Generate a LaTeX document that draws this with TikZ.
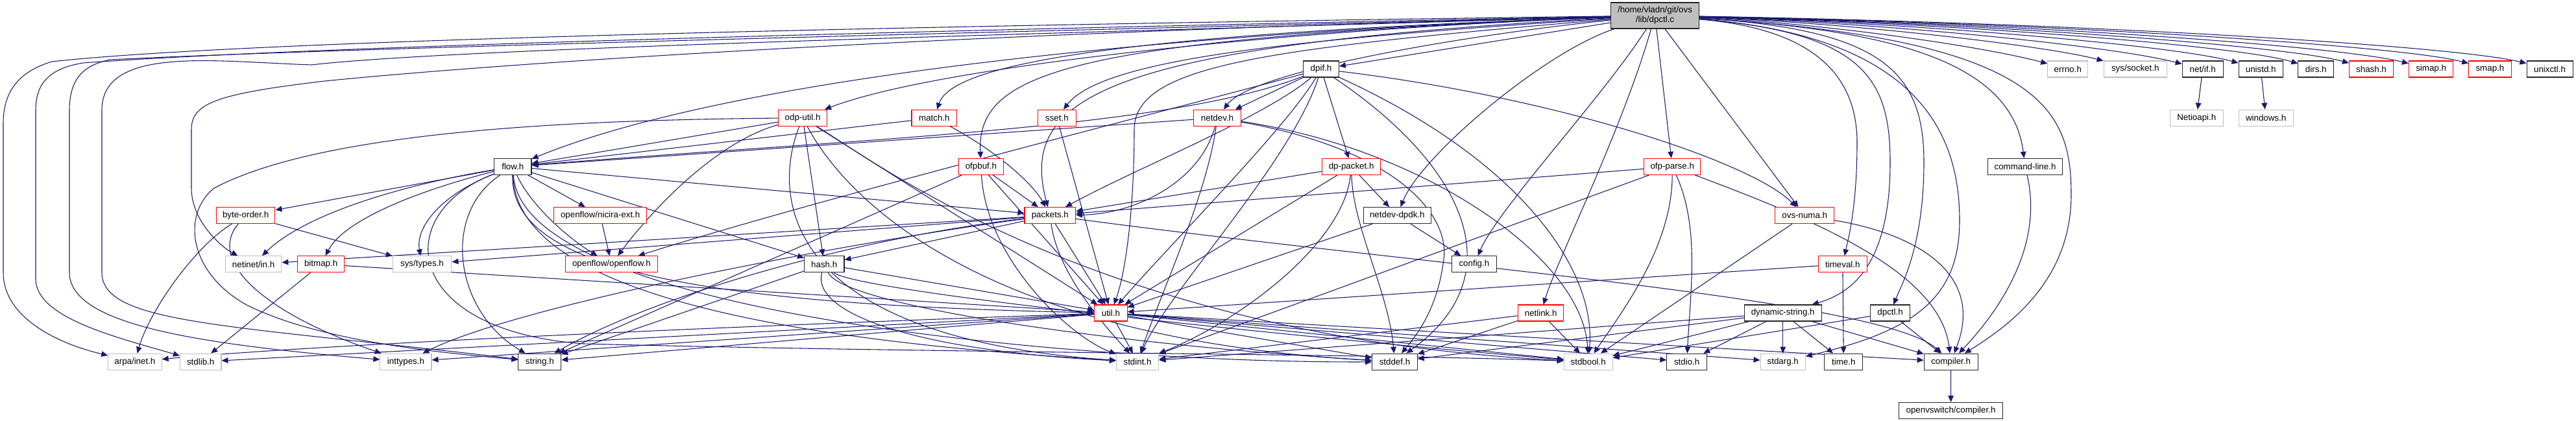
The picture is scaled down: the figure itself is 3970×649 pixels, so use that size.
\documentclass[tikz,border=0pt]{standalone}
\usepackage{fontspec}
\setmainfont{Liberation Sans}
\usetikzlibrary{arrows.meta}
\definecolor{edgeblue}{HTML}{191970}
\definecolor{nodegray}{HTML}{BFBFBF}
\pgfdeclarelayer{bg}
\pgfsetlayers{bg,main}
\begin{document}
\begin{tikzpicture}[x=0.75pt,y=-0.75pt,
  box/.style={rectangle, line width=0.8pt, minimum height=25*0.75pt, inner sep=0pt, fill=white, font=\fontsize{10}{12}\selectfont},
  blk/.style={box, draw=black!85, minimum width=#1*0.75pt},
  redb/.style={box, draw=red, minimum width=#1*0.75pt},
  gryb/.style={box, draw=nodegray, minimum width=#1*0.75pt},
  e/.style={draw=edgeblue, line width=0.8pt, -{Triangle[length=7.5pt,width=6.5pt]}}]
\useasboundingbox (0,0) rectangle (3970,649);
% root
\node[box, draw=black!85, fill=nodegray, minimum width=136*0.75pt, minimum height=40*0.75pt, align=center, font=\fontsize{10}{11.25}\selectfont] (root) at (2550.5,24) {/home/vladn/git/ovs\\/lib/dpctl.c};
% row 1
\node[blk=54.7] (dpif) at (2036,106.5) {dpif.h};
\node[gryb=62] (errno) at (3186.8,106.5) {errno.h};
\node[gryb=97.2] (syssock) at (3290.7,106.5) {sys/socket.h};
\node[blk=62.9] (netif) at (3394.65,106.5) {net/if.h};
\node[blk=68.4] (unistd) at (3484.2,106.5) {unistd.h};
\node[blk=54.7] (dirs) at (3569.25,106.5) {dirs.h};
\node[redb=68] (shash) at (3654.5,106.5) {shash.h};
\node[redb=68.4] (simap) at (3746.6,106.5) {simap.h};
\node[redb=65.4] (smap) at (3837.4,106.5) {smap.h};
\node[blk=71] (unixctl) at (3929.5,106.5) {unixctl.h};
% row 2
\node[redb=74.8] (odputil) at (1237.1,181.7) {odp-util.h};
\node[redb=69.7] (match) at (1439.85,181.7) {match.h};
\node[redb=59] (sset) at (1628.9,181.7) {sset.h};
\node[redb=72.6] (netdev) at (1876,181.7) {netdev.h};
\node[gryb=81.7] (netioapi) at (3385.25,181.7) {Netioapi.h};
\node[gryb=84.2] (windows) at (3492.1,181.7) {windows.h};
% row 3
\node[blk=57.3] (flow) at (790.35,256.9) {flow.h};
\node[redb=69.2] (ofpbuf) at (1511.9,256.9) {ofpbuf.h};
\node[redb=90.6] (dppacket) at (2082.6,256.9) {dp-packet.h};
\node[redb=86.8] (ofpparse) at (2577.2,256.9) {ofp-parse.h};
\node[blk=115] (cmdline) at (3121,256.9) {command-line.h};
% row 4
\node[redb=90.6] (byteorder) at (378.6,332.1) {byte-order.h};
\node[redb=143.2] (nicira) at (925.2,332.1) {openflow/nicira-ext.h};
\node[redb=78.6] (packets) at (1618.3,332.1) {packets.h};
\node[blk=103.8] (netdevdpdk) at (2153.3,332.1) {netdev-dpdk.h};
\node[redb=91.1] (ovsnuma) at (2781.25,332.1) {ovs-numa.h};
% row 5
\node[gryb=86.4] (netinet) at (390.6,407.3) {netinet/in.h};
\node[redb=72.3] (bitmap) at (494.65,407.3) {bitmap.h};
\node[gryb=90.8] (systypes) at (650.5,407.3) {sys/types.h};
\node[redb=141.9] (openflow) at (942.45,407.3) {openflow/openflow.h};
\node[blk=61.5] (hash) at (1270.25,407.3) {hash.h};
\node[blk=68.4] (config) at (2271.9,407.3) {config.h};
\node[redb=74.8] (timeval) at (2839.8,407.3) {timeval.h};
% row 6
\node[redb=50.4] (util) at (1711.9,482.5) {util.h};
\node[redb=70.5] (netlink) at (2374.65,482.5) {netlink.h};
\node[blk=118.8] (dynstring) at (2747.7,482.5) {dynamic-string.h};
\node[blk=61.5] (dpctlh) at (2913.05,482.5) {dpctl.h};
% row 7
\node[gryb=82.4] (arpa) at (207.9,557.7) {arpa/inet.h};
\node[gryb=63.6] (stdlib) at (309.2,557.7) {stdlib.h};
\node[gryb=79.1] (inttypes) at (625.45,557.7) {inttypes.h};
\node[blk=65.8] (string) at (831.8,557.7) {string.h};
\node[gryb=65.4] (stdint) at (1753.1,557.7) {stdint.h};
\node[blk=69.7] (stddef) at (2149.45,557.7) {stddef.h};
\node[gryb=74.8] (stdbool) at (2447.7,557.7) {stdbool.h};
\node[blk=61.5] (stdio) at (2599.65,557.7) {stdio.h};
\node[gryb=69.2] (stdarg) at (2747.7,557.7) {stdarg.h};
\node[blk=59] (time) at (2841.3,557.7) {time.h};
\node[blk=82.9] (compiler) at (3006.65,557.7) {compiler.h};
% row 8
\node[blk=159.4] (ovscompiler) at (3006.5,632.9) {openvswitch/compiler.h};

\begin{pgfonlayer}{bg}
% ---- root edges
\draw[e] (root) .. controls (1500,38) and (400,60) .. (80,95) .. controls (30,110) and (5,140) .. (5,190) -- (5,420) .. controls (5,490) and (90,530) .. (arpa);
\draw[e] (root) .. controls (1500,45) and (500,70) .. (128,97) .. controls (80,105) and (55,125) .. (55,170) -- (55,430) .. controls (55,490) and (180,520) .. (stdlib);
\draw[e] (root) .. controls (1500,50) and (500,75) .. (170,92) .. controls (130,100) and (107,120) .. (107,170) -- (107,420) .. controls (107,500) and (300,530) .. (inttypes);
\draw[e] (root) .. controls (1500,55) and (700,75) .. (480,100) .. controls (330,95) and (157,70) .. (157,170) -- (157,420) .. controls (157,500) and (350,500) .. (string);
\draw[e] (root) .. controls (1500,50) and (800,95) .. (500,125) .. controls (330,145) and (295,160) .. (295,200) -- (295,290) .. controls (295,340) and (340,380) .. (netinet);
\draw[e] (root) .. controls (1700,55) and (1100,130) .. (flow);
\draw[e] (root) .. controls (2000,45) and (1450,100) .. (odputil);
\draw[e] (root) .. controls (1800,50) and (1470,90) .. (match);
\draw[e] (root) .. controls (1650,60) and (1505,110) .. (ofpbuf);
\draw[e] (root) .. controls (1700,70) and (1570,150) .. (packets);
\draw[e] (root) .. controls (2000,60) and (1700,90) .. (sset);
\draw[e] (root) .. controls (1950,75) and (1748,100) .. (1748,200) .. controls (1748,320) and (1735,420) .. (util);
\draw[e] (root) .. controls (2250,55) and (1930,110) .. (netdev);
\draw[e] (root) -- (dpif);
\draw[e] (root) .. controls (2380,80) and (2190,240) .. (netdevdpdk);
\draw[e] (root) .. controls (2470,150) and (2310,320) .. (config);
\draw[e] (root) .. controls (2500,200) and (2400,400) .. (netlink);
\draw[e] (root) -- (ofpparse);
\draw[e] (root) -- (ovsnuma);
\draw[e] (root) .. controls (2800,45) and (2862,120) .. (2862,220) .. controls (2862,320) and (2848,370) .. (timeval);
\draw[e] (root) .. controls (2870,50) and (2913,120) .. (2913,250) .. controls (2913,400) and (2860,450) .. (dynstring);
\draw[e] (root) .. controls (2900,45) and (2965,110) .. (2965,250) .. controls (2965,380) and (2930,440) .. (dpctlh);
\draw[e] (root) .. controls (2950,55) and (3020,200) .. (3020,340) .. controls (3020,460) and (2950,510) .. (stdarg);
\draw[e] (root) .. controls (2900,45) and (3100,90) .. (cmdline);
\draw[e] (root) .. controls (3150,60) and (3192,170) .. (3192,300) .. controls (3192,430) and (3100,500) .. (compiler);
\draw[e] (root) .. controls (2800,35) and (3050,70) .. (errno);
\draw[e] (root) .. controls (2850,35) and (3150,70) .. (syssock);
\draw[e] (root) .. controls (2900,35) and (3250,70) .. (netif);
\draw[e] (root) .. controls (2950,35) and (3350,70) .. (unistd);
\draw[e] (root) .. controls (3000,35) and (3450,70) .. (dirs);
\draw[e] (root) .. controls (3050,35) and (3520,70) .. (shash);
\draw[e] (root) .. controls (3100,35) and (3600,70) .. (simap);
\draw[e] (root) .. controls (3150,35) and (3700,70) .. (smap);
\draw[e] (root) .. controls (3200,35) and (3780,70) .. (unixctl);
\draw[e] (netif) -- (netioapi);
\draw[e] (unistd) -- (windows);
% ---- dpif
\draw[e] (dpif) .. controls (1800,200) and (1300,215) .. (flow);
\draw[e] (dpif) .. controls (1800,170) and (1250,310) .. (openflow);
\draw[e] (dpif) -- (netdev);
\draw[e] (dpif) .. controls (1950,180) and (1750,260) .. (packets);
\draw[e] (dpif) .. controls (1980,200) and (1800,380) .. (util);
\draw[e] (dpif) .. controls (1990,250) and (1800,450) .. (stdint);
\draw[e] (dpif) -- (dppacket);
\draw[e] (dpif) .. controls (2250,250) and (2340,420) .. (stddef);
\draw[e] (dpif) .. controls (2350,250) and (2460,420) .. (stdbool);
\draw[e] (dpif) .. controls (2400,150) and (2700,250) .. (ovsnuma);
% ---- odp-util
\draw[e] (odputil) -- (flow);
\draw[e] (odputil) .. controls (900,185) and (500,200) .. (330,290) .. controls (280,330) and (290,420) .. (380,470) .. controls (500,530) and (700,545) .. (string);
\draw[e] (odputil) .. controls (1100,220) and (1000,330) .. (openflow);
\draw[e] (odputil) -- (hash);
\draw[e] (odputil) -- (util);
\draw[e] (odputil) .. controls (1190,300) and (1200,520) .. (stdint);
\draw[e] (odputil) .. controls (1300,300) and (1500,520) .. (stddef);
\draw[e] (odputil) .. controls (1350,250) and (1700,520) .. (stdbool);
% ---- match, sset
\draw[e] (match) -- (flow);
\draw[e] (match) .. controls (1530,230) and (1590,280) .. (packets);
\draw[e] (sset) -- (util);
% ---- netdev
\draw[e] (netdev) -- (flow);
\draw[e] (netdev) .. controls (1850,280) and (1750,330) .. (packets);
\draw[e] (netdev) .. controls (1860,300) and (1790,450) .. (stdint);
\draw[e] (netdev) .. controls (2150,230) and (2235,330) .. (2225,400) .. controls (2215,480) and (2180,520) .. (stddef);
\draw[e] (netdev) .. controls (2200,230) and (2440,400) .. (stdbool);
% ---- ofpbuf
\draw[e] (ofpbuf) -- (packets);
\draw[e] (ofpbuf) -- (util);
\draw[e] (ofpbuf) .. controls (1520,400) and (1650,520) .. (stdint);
\draw[e] (ofpbuf) -- (string);
% ---- flow
\draw[e] (flow) -- (byteorder);
\draw[e] (flow) .. controls (620,285) and (470,330) .. (netinet);
\draw[e] (flow) .. controls (640,295) and (530,340) .. (bitmap);
\draw[e] (flow) .. controls (680,300) and (640,350) .. (systypes);
\draw[e] (flow) -- (nicira);
\draw[e] (flow) .. controls (820,320) and (880,370) .. (openflow);
\draw[e] (flow) -- (packets);
\draw[e] (flow) -- (hash);
\draw[e] (flow) .. controls (785,420) and (1100,470) .. (util);
\draw[e] (flow) .. controls (680,330) and (700,480) .. (string);
\draw[e] (flow) .. controls (795,470) and (1300,530) .. (stdint);
\draw[e] (flow) .. controls (805,490) and (1700,560) .. (stddef);
\draw[e] (flow) .. controls (600,330) and (620,510) .. (900,530) .. controls (1500,545) and (2100,545) .. (stdbool);
% ---- packets
\draw[e] (packets) -- (netinet);
\draw[e] (packets) -- (systypes);
\draw[e] (packets) .. controls (1300,375) and (800,470) .. (inttypes);
\draw[e] (packets) .. controls (1300,370) and (1000,460) .. (string);
\draw[e] (packets) -- (hash);
\draw[e] (packets) -- (util);
\draw[e] (packets) .. controls (1630,420) and (1700,500) .. (stdint);
\draw[e] (packets) .. controls (2200,410) and (2900,460) .. (compiler);
% ---- dp-packet, netdev-dpdk
\draw[e] (dppacket) -- (packets);
\draw[e] (dppacket) -- (util);
\draw[e] (dppacket) .. controls (2070,380) and (1900,500) .. (stdint);
\draw[e] (dppacket) .. controls (2085,350) and (2140,450) .. (stddef);
\draw[e] (dppacket) -- (netdevdpdk);
\draw[e] (netdevdpdk) -- (config);
\draw[e] (netdevdpdk) -- (util);
% ---- ofp-parse, ovs-numa
\draw[e] (ofpparse) -- (packets);
\draw[e] (ofpparse) -- (stdint);
\draw[e] (ofpparse) .. controls (2577,380) and (2500,480) .. (stdbool);
\draw[e] (ofpparse) .. controls (2620,350) and (2605,450) .. (stdio);
\draw[e] (ofpparse) .. controls (2800,340) and (2990,420) .. (compiler);
\draw[e] (ovsnuma) -- (stdbool);
\draw[e] (ovsnuma) .. controls (2950,360) and (3060,420) .. (compiler);
% ---- byte-order, bitmap, nicira
\draw[e] (byteorder) .. controls (300,380) and (230,480) .. (arpa);
\draw[e] (byteorder) -- (systypes);
\draw[e] (byteorder) .. controls (320,400) and (400,480) .. (inttypes);
\draw[e] (bitmap) -- (stdlib);
\draw[e] (bitmap) -- (util);
\draw[e] (nicira) -- (openflow);
% ---- hash
\draw[e] (hash) -- (string);
\draw[e] (hash) -- (util);
\draw[e] (hash) .. controls (1250,480) and (1400,540) .. (stdint);
\draw[e] (hash) .. controls (1300,470) and (1700,530) .. (stddef);
\draw[e] (hash) .. controls (1320,450) and (2000,520) .. (stdbool);
% ---- timeval
\draw[e] (timeval) -- (util);
\draw[e] (timeval) -- (time);
% ---- util
\draw[e] (util) .. controls (1200,500) and (500,530) .. (arpa);
\draw[e] (util) -- (stdlib);
\draw[e] (util) -- (inttypes);
\draw[e] (util) -- (string);
\draw[e] (util) -- (stdint);
\draw[e] (util) -- (stddef);
\draw[e] (util) -- (stdbool);
\draw[e] (util) -- (stdio);
\draw[e] (util) -- (stdarg);
\draw[e] (util) -- (compiler);
% ---- netlink, dynamic-string, dpctl.h, command-line, compiler
\draw[e] (netlink) -- (stdint);
\draw[e] (netlink) -- (stddef);
\draw[e] (netlink) -- (stdbool);
\draw[e] (dynstring) -- (stdint);
\draw[e] (dynstring) -- (stddef);
\draw[e] (dynstring) -- (stdbool);
\draw[e] (dynstring) -- (stdio);
\draw[e] (dynstring) -- (stdarg);
\draw[e] (dynstring) -- (time);
\draw[e] (dynstring) -- (compiler);
\draw[e] (dpctlh) -- (stdbool);
\draw[e] (dpctlh) -- (compiler);
\draw[e] (cmdline) .. controls (3150,380) and (3080,480) .. (compiler);
\draw[e] (compiler) -- (ovscompiler);
\end{pgfonlayer}
\end{tikzpicture}
\end{document}
